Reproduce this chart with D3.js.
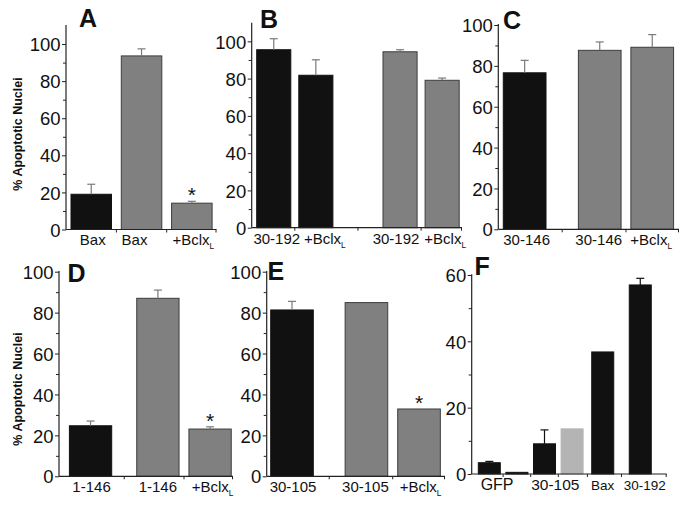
<!DOCTYPE html>
<html><head><meta charset="utf-8">
<script src="https://cdn.jsdelivr.net/npm/d3@7/dist/d3.min.js"></script>
<style>body{margin:0;background:#fff} text{font-family:"Liberation Sans",Arial,sans-serif;fill:#111}</style>
</head><body><svg id="c" width="685" height="514"></svg>
<script>
// ---------- DATA ----------
// Panel A
const aLabels = ["Bax","Bax","+Bclx_L"];
const aValues = [19,93.6,14.2];
const aErrors = [5.4,3.8,1.0];
const aSeries = ["dark","mid","mid"];
const aGroups = [0,1,2];
const aStars  = [0,0,1];
// Panel B
const bLabels = ["30-192","+Bclx_L","30-192","+Bclx_L"];
const bValues = [95.5,81.8,94.4,79.1];
const bErrors = [5.9,8.3,1.1,1.2];
const bSeries = ["dark","dark","mid","mid"];
const bGroups = [0,0,1,1];
const bStars  = [0,0,0,0];
// Panel C
const cLabels = ["30-146","30-146","+Bclx_L"];
const cValues = [76.6,87.6,89.1];
const cErrors = [6.1,4.1,6.2];
const cSeries = ["dark","mid","mid"];
const cGroups = [0,1,1];
const cStars  = [0,0,0];
// Panel D
const dLabels = ["1-146","1-146","+Bclx_L"];
const dValues = [24.7,87,23.1];
const dErrors = [2.3,4,1.1];
const dSeries = ["dark","mid","mid"];
const dGroups = [0,1,1];
const dStars  = [0,0,1];
// Panel E
const eLabels = ["30-105","30-105","+Bclx_L"];
const eValues = [81.3,84.9,32.9];
const eErrors = [4.2,0,0];
const eSeries = ["dark","mid","mid"];
const eGroups = [0,1,1];
const eStars  = [0,0,1];
// Panel F
const fGroupLabels = ["GFP","30-105","Bax","30-192"];
const fValues = [3.4,0.5,9.1,13.6,36.8,57];
const fErrors = [0.4,0,4.2,0,0,2];
const fSeries = ["dark","dark","dark","light","dark","dark"];
const fGroups = [0,0,1,1,2,3];
const fStars  = [0,0,0,0,0,0];

const yTitle = "% Apoptotic Nuclei";

// ---------- STYLE / LAYOUT ----------
const color = d3.scaleOrdinal().domain(["dark","mid","light"]).range(["#111111","#808080","#b4b4b4"]);
const strokeC = d3.scaleOrdinal().domain(["dark","mid","light"]).range(["#111111","#3c3c3c","#b4b4b4"]);
const svg = d3.select("#c");
const FONT = "'Liberation Sans',Arial,sans-serif";

function panel(cfg){
  const g = svg.append("g");
  const y = d3.scaleLinear().domain([0,cfg.yMax]).range([cfg.y0, cfg.yTopPx]);
  const x = d3.scaleLinear().domain([0,1]).range([cfg.f, cfg.f+cfg.step]);
  const bars = cfg.values.map((v,i)=>({i, v, e:cfg.errors[i], s:cfg.series[i], g:cfg.groups[i],
      slot: i + cfg.offsets[cfg.groups[i]], label: cfg.labels ? cfg.labels[i] : null, star: cfg.stars[i]}));
  // bars
  g.selectAll("rect").data(bars).join("rect")
    .attr("x", d=>x(d.slot)).attr("width", cfg.bw)
    .attr("y", d=>y(d.v)).attr("height", d=>y(0)-y(d.v))
    .attr("fill", d=>color(d.s)).attr("stroke", d=>strokeC(d.s)).attr("stroke-width",1);
  // error bars
  const eb = bars.filter(d=>d.e>0);
  const ec = cfg.errColor;
  g.selectAll("line.err").data(eb).join("line").attr("class","err")
    .attr("x1", d=>x(d.slot)+cfg.bw/2).attr("x2", d=>x(d.slot)+cfg.bw/2)
    .attr("y1", d=>y(d.v)).attr("y2", d=>y(d.v+d.e)).attr("stroke",ec).attr("stroke-width",1.2);
  g.selectAll("line.cap").data(eb).join("line").attr("class","cap")
    .attr("x1", d=>x(d.slot)+cfg.bw/2-4).attr("x2", d=>x(d.slot)+cfg.bw/2+4)
    .attr("y1", d=>y(d.v+d.e)).attr("y2", d=>y(d.v+d.e)).attr("stroke",ec).attr("stroke-width",1.2);
  // stars
  g.selectAll("text.star").data(bars.filter(d=>d.star)).join("text").attr("class","star")
    .attr("x", d=>x(d.slot)+cfg.bw/2).attr("y", d=>y(d.v+d.e)+1)
    .attr("text-anchor","middle").attr("font-size",21).text("*");
  // y axis
  const yAxis = d3.axisLeft(y).tickValues(cfg.majors).tickSize(4).tickPadding(1.5).tickFormat(d3.format("d"));
  const ya = g.append("g").attr("transform",`translate(${cfg.ax},0)`).call(yAxis);
  ya.select(".domain").remove();
  ya.selectAll("text").attr("font-size",18.5).style("font-family",FONT).style("fill","#111").attr("dy","0.36em");
  ya.selectAll("line").attr("stroke","#222");
  g.append("g").attr("transform",`translate(${cfg.ax},0)`)
    .call(d3.axisLeft(y).tickValues(cfg.minors).tickSize(3).tickFormat(""))
    .call(s=>{s.select(".domain").remove(); s.selectAll("line").attr("stroke","#222");});
  g.append("line").attr("x1",cfg.ax).attr("x2",cfg.ax).attr("y1",cfg.y0).attr("y2",cfg.axTop)
    .attr("stroke","#222").attr("stroke-width",1.2);
  // x axis
  g.append("line").attr("x1",cfg.ax).attr("x2",cfg.axEnd).attr("y1",cfg.y0).attr("y2",cfg.y0)
    .attr("stroke","#222").attr("stroke-width",1.2);
  const mids = [];
  for(let i=1;i<bars.length;i++) mids.push((x(bars[i-1].slot)+cfg.bw + x(bars[i].slot))/2);
  mids.push(cfg.axEnd-0.5);
  g.selectAll("line.xt").data(mids).join("line").attr("class","xt")
    .attr("x1",d=>d).attr("x2",d=>d).attr("y1",cfg.y0).attr("y2",cfg.y0+3).attr("stroke","#222");
  // x labels
  function addLabel(txt, cx, size){
    const parts = txt.split("_");
    const t = g.append("text").attr("x",cx).attr("y",cfg.y0+cfg.labDy).attr("text-anchor","middle")
      .attr("font-size",size).style("fill","#111");
    t.append("tspan").text(parts[0]);
    if(parts[1]) t.append("tspan").attr("font-size",size*0.55).attr("dy",4).style("fill","#111").text(parts[1]);
  }
  if(cfg.labels){
    bars.forEach(d=>addLabel(d.label, x(d.slot)+cfg.bw/2 + cfg.labelShift[d.i], 15));
  } else {
    cfg.groupLabels.forEach((lab,gi)=>{
      const bs = bars.filter(d=>d.g===gi);
      const cx = d3.mean(bs, d=>x(d.slot)+cfg.bw/2);
      addLabel(lab, cx + cfg.groupLabelShift[gi], cfg.groupLabelSizes[gi]);
    });
  }
  // panel letter
  g.append("text").attr("x",cfg.letterX).attr("y",cfg.letterY).attr("font-size",25)
    .attr("font-weight","bold").text(cfg.letter);
  // y title
  if(cfg.title){
    g.append("text").attr("transform",`translate(${cfg.titleX},${cfg.titleY}) rotate(-90)`)
      .attr("text-anchor","middle").attr("dominant-baseline","central")
      .attr("font-size",12.5).attr("font-weight","bold").text(yTitle);
  }
}

const maj100 = [0,20,40,60,80,100], min100 = [10,30,50,70,90];

panel({letter:"A", letterX:79, letterY:27, labels:aLabels, labelShift:[1.5,-7,1.5], values:aValues, errors:aErrors, series:aSeries,
  groups:aGroups, stars:aStars, offsets:[0,0,0], f:71, step:50.3, bw:40.5,
  yMax:110, y0:229.5, yTopPx:25.5, axTop:25, ax:66, axEnd:216.5, majors:maj100, minors:min100,
  errColor:"#7a7a7a", labDy:15.5, title:true, titleX:18, titleY:134});
panel({letter:"B", letterX:260, letterY:27.5, labels:bLabels, labelShift:[3,9,-4,3], values:bValues, errors:bErrors, series:bSeries,
  groups:bGroups, stars:bStars, offsets:[0,1], f:256.7, step:42.1, bw:34.1,
  yMax:110, y0:227.7, yTopPx:22.7, axTop:22.7, ax:251.7, axEnd:462, majors:maj100, minors:min100,
  errColor:"#7a7a7a", labDy:16});
panel({letter:"C", letterX:503, letterY:28.5, labels:cLabels, labelShift:[2,-1,-1], values:cValues, errors:cErrors, series:cSeries,
  groups:cGroups, stars:cStars, offsets:[0,0.43], f:503.3, step:52.5, bw:42.7,
  yMax:100, y0:229.3, yTopPx:25, axTop:24, ax:498.3, axEnd:679, majors:maj100, minors:min100,
  errColor:"#7a7a7a", labDy:15.5});
panel({letter:"D", letterX:67.5, letterY:281.7, labels:dLabels, labelShift:[1,0,2.5], values:dValues, errors:dErrors, series:dSeries,
  groups:dGroups, stars:dStars, offsets:[0,0.29], f:69.4, step:52.2, bw:42.3,
  yMax:100, y0:476.3, yTopPx:271.7, axTop:271, ax:59, axEnd:233, majors:maj100, minors:min100,
  errColor:"#7a7a7a", labDy:16, title:true, titleX:18, titleY:389});
panel({letter:"E", letterX:267.5, letterY:280, labels:eLabels, labelShift:[1,-1,1.5], values:eValues, errors:eErrors, series:eSeries,
  groups:eGroups, stars:eStars, offsets:[0,0.415], f:270.7, step:52.6, bw:42.6,
  yMax:100, y0:476.3, yTopPx:271.7, axTop:271, ax:266.7, axEnd:445, majors:maj100, minors:min100,
  errColor:"#7a7a7a", labDy:16});
panel({letter:"F", letterX:474.5, letterY:275, labels:null, groupLabels:fGroupLabels,
  groupLabelShift:[-6,-3,0,4.5], groupLabelSizes:[16,15.5,13.5,13.5],
  values:fValues, errors:fErrors, series:fSeries,
  groups:fGroups, stars:fStars, offsets:[0,0,0.11,0.47], f:478.3, step:27.6, bw:22,
  yMax:60, y0:474, yTopPx:275, axTop:274.3, ax:471.7, axEnd:666.7, majors:[0,20,40,60], minors:[10,30,50],
  errColor:"#111", labDy:15.5});
</script></body></html>
